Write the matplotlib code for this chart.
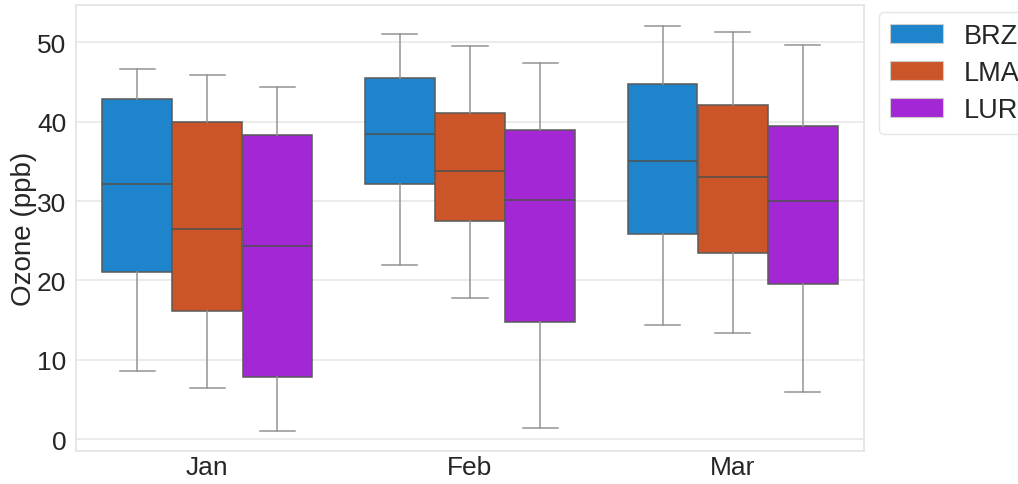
import matplotlib
matplotlib.use("Agg")
import matplotlib.pyplot as plt
from matplotlib.patches import Patch

plt.rcParams['font.family'] = ['Liberation Sans', 'DejaVu Sans']

months = ["Jan", "Feb", "Mar"]
stations = ["BRZ", "LMA", "LUR"]
colors = ["#1e84cb", "#cb5529", "#a327d4"]

# [whislo, q1, med, q3, whishi] per month
brz = [[8.6, 21.0, 32.1, 42.9, 46.6],
       [22.0, 32.2, 38.4, 45.5, 51.0],
       [14.4, 25.8, 35.0, 44.7, 52.1]]
lma = [[6.5, 16.1, 26.5, 40.0, 45.9],
       [17.8, 27.5, 33.8, 41.1, 49.5],
       [13.4, 23.4, 33.0, 42.1, 51.3]]
lur = [[1.05, 7.8, 24.3, 38.3, 44.4],
       [1.4, 14.8, 30.1, 38.9, 47.4],
       [5.9, 19.6, 30.0, 39.5, 49.7]]
series = [brz, lma, lur]

fig = plt.figure(figsize=(10.18, 4.85), dpi=100)
ax = fig.add_axes([76/1018, 1-452/485, (864-76)/1018, (452-6)/485])

width = 0.8 / 3
for j, (name, data, col) in enumerate(zip(stations, series, colors)):
    stats = []
    for vals in data:
        lo, q1, med, q3, hi = vals
        stats.append(dict(whislo=lo, q1=q1, med=med, q3=q3, whishi=hi, fliers=[]))
    pos = [i + (j - 1) * width for i in range(len(months))]
    ax.bxp(stats, positions=pos, widths=width * 0.995, patch_artist=True,
           showfliers=False, manage_ticks=False,
           boxprops=dict(facecolor=col, edgecolor="#595959", linewidth=1.1),
           medianprops=dict(color="#4f4f4f", linewidth=1.1),
           whiskerprops=dict(color="#939393", linewidth=1.1),
           capprops=dict(color="#939393", linewidth=1.1),
           capwidths=width * 0.5)

ax.set_xlim(-0.5, 2.5)
ax.set_ylim(-1.5, 54.7)
ax.set_xticks(range(len(months)))
ax.set_xticklabels(months)
ax.set_yticks([0, 10, 20, 30, 40, 50])
ax.tick_params(axis='both', labelsize=19, length=0, colors="#262626")
ax.tick_params(axis='x', pad=3)
ax.tick_params(axis='y', pad=7)
ax.set_ylabel("Ozone (ppb)", fontsize=20, color="#262626", labelpad=0)
ax.yaxis.grid(True, color="#e8e8e8", linewidth=1.2)
ax.set_axisbelow(True)
for s in ax.spines.values():
    s.set_color("#e3e3e3")
    s.set_linewidth(1.2)

handles = [Patch(facecolor=c, edgecolor="#cccccc", linewidth=0.8) for c in colors]
leg = fig.legend(handles, stations, loc="upper left",
                 bbox_to_anchor=(879/1018, 1-12.7/485), bbox_transform=fig.transFigure,
                 borderaxespad=0, fontsize=19.5, handlelength=1.96, handleheight=0.7,
                 handletextpad=0.78, labelspacing=0.42, frameon=True, fancybox=True)
leg.get_frame().set_edgecolor("#e0e0e0")
for t in leg.get_texts():
    t.set_color("#262626")

fig.savefig("out.png", dpi=100)
